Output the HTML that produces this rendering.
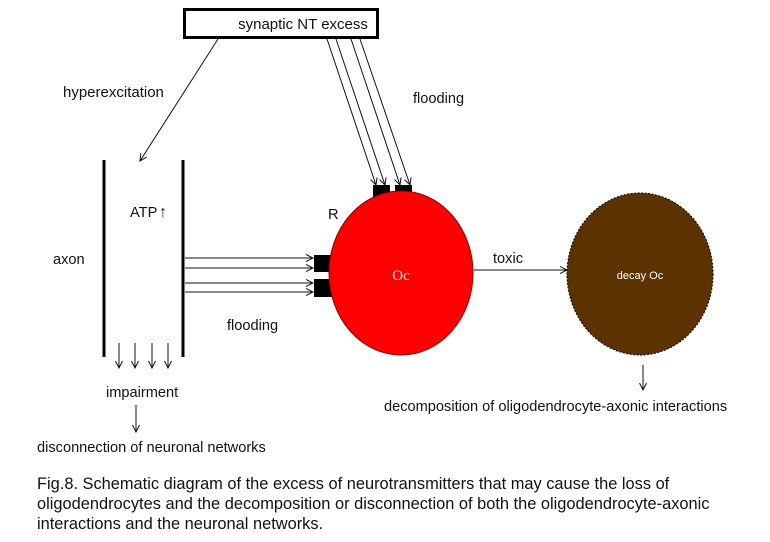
<!DOCTYPE html>
<html><head><meta charset="utf-8"><style>
html,body{margin:0;padding:0;background:#fff;}
svg{display:block;}
text{font-family:"Liberation Sans",Arial,sans-serif;fill:#111;}
</style></head><body>
<svg width="770" height="542" viewBox="0 0 770 542" xmlns="http://www.w3.org/2000/svg">
<defs>
<marker id="a" markerWidth="8" markerHeight="8" refX="7" refY="4" orient="auto" markerUnits="userSpaceOnUse">
<path d="M0,0.5 L7,4 L0,7.5" fill="none" stroke="#111" stroke-width="1"/>
</marker>
</defs>
<rect x="184.5" y="9.5" width="193" height="28" fill="#fff" stroke="#000" stroke-width="3"/>
<text x="303" y="29" font-size="15" text-anchor="middle">synaptic NT excess</text>

<line x1="218" y1="39" x2="140" y2="161" stroke="#111" stroke-width="1" marker-end="url(#a)"/>
<text x="63" y="97" font-size="15">hyperexcitation</text>

<g stroke="#111" stroke-width="1" marker-end="url(#a)">
<line x1="327" y1="39" x2="376" y2="185"/>
<line x1="336" y1="39" x2="385" y2="185"/>
<line x1="351" y1="39" x2="400" y2="185"/>
<line x1="360" y1="39" x2="410" y2="185"/>
</g>
<text x="413" y="103" font-size="14.6">flooding</text>

<line x1="104" y1="160" x2="104" y2="357" stroke="#000" stroke-width="3"/>
<line x1="183" y1="160" x2="183" y2="357" stroke="#000" stroke-width="3"/>
<text x="130" y="217" font-size="14.6">ATP</text>
<text x="159" y="217" font-size="16" font-weight="bold">↑</text>
<text x="53" y="264" font-size="14.6">axon</text>

<g stroke="#111" stroke-width="1" marker-end="url(#a)">
<line x1="185" y1="258" x2="313" y2="258"/>
<line x1="185" y1="268" x2="313" y2="268"/>
<line x1="185" y1="283" x2="313" y2="283"/>
<line x1="185" y1="292" x2="313" y2="292"/>
<line x1="119" y1="343" x2="119" y2="368"/>
<line x1="135" y1="343" x2="135" y2="368"/>
<line x1="152" y1="343" x2="152" y2="368"/>
<line x1="168" y1="343" x2="168" y2="368"/>
<line x1="136" y1="405" x2="136" y2="432"/>
<line x1="643" y1="365" x2="643" y2="390"/>
</g>
<text x="227" y="330" font-size="14.6">flooding</text>
<text x="106" y="397" font-size="14.6">impairment</text>
<text x="37" y="452" font-size="14.6">disconnection of neuronal networks</text>

<rect x="373" y="185" width="17" height="13" fill="#000"/>
<rect x="395" y="185" width="17" height="13" fill="#000"/>
<rect x="314" y="255" width="18" height="17" fill="#000"/>
<rect x="314" y="279" width="18" height="18" fill="#000"/>
<ellipse cx="401" cy="273" rx="72" ry="82" fill="#ff0000" stroke="#8a0000" stroke-width="1"/>
<text x="401" y="280" font-size="15" text-anchor="middle" style="fill:#ffdede;font-family:'Liberation Serif',serif">Oc</text>
<text x="328" y="219" font-size="14.6">R</text>

<line x1="474" y1="270" x2="567" y2="270" stroke="#111" stroke-width="1" marker-end="url(#a)"/>
<text x="493" y="263" font-size="14.6">toxic</text>

<ellipse cx="640" cy="274" rx="73" ry="81" fill="#5c3200" stroke="#000" stroke-width="1" stroke-dasharray="2,1.5"/>
<text x="640" y="279" font-size="11" text-anchor="middle" style="fill:#fff">decay Oc</text>
<text x="384" y="411" font-size="14.6">decomposition of oligodendrocyte-axonic interactions</text>

<text x="37" y="489" font-size="16.4">Fig.8. Schematic diagram of the excess of neurotransmitters that may cause the loss of</text>
<text x="37" y="509" font-size="16.4">oligodendrocytes and the decomposition or disconnection of both the oligodendrocyte-axonic</text>
<text x="37" y="529" font-size="16.4">interactions and the neuronal networks.</text>
</svg>
</body></html>
